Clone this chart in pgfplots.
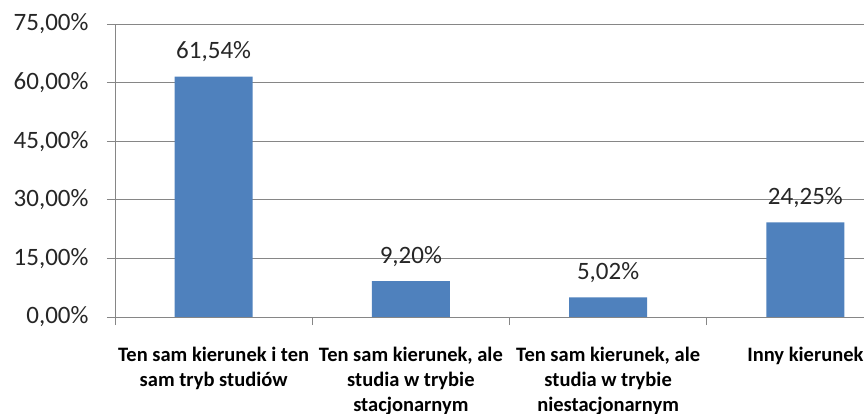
\documentclass[border=0pt]{standalone}
\usepackage{pgfplots}
\pgfplotsset{compat=1.18}
\usepackage{fontspec}
\setmainfont{Carlito}
\definecolor{barblue}{HTML}{4F81BD}
\definecolor{axgray}{HTML}{868686}
\begin{document}
\begin{tikzpicture}
\useasboundingbox (0,0) rectangle (864bp,414bp);
\clip (0,0) rectangle (864bp,414bp);
\begin{axis}[
  at={(115bp,97bp)}, anchor=south west,
  scale only axis, width=789bp, height=293bp,
  xmin=0, xmax=4, ymin=0, ymax=75,
  axis x line*=bottom, axis y line*=left,
  axis line style={axgray, line width=1bp, -},
  tick align=outside,
  major tick length=8bp,
  tick style={axgray, line width=1bp},
  ytick={0,15,...,75},
  ymajorgrids, grid style={axgray, line width=1bp},
  /pgf/number format/assume math mode=true,
  yticklabel={\pgfmathprintnumber[fixed,fixed zerofill,precision=2,use comma]{\tick}\%},
  yticklabel style={font=\fontsize{25bp}{30bp}\selectfont, text=black!85},
  yticklabel shift=15bp,
  xtick={0,1,2,3,4},
  xticklabels={,,,,},
  extra x ticks={0.5,1.5,2.5,3.5},
  extra x tick labels={{Ten sam kierunek i ten\\sam tryb studiów},{Ten sam kierunek, ale\\studia w trybie\\stacjonarnym},{Ten sam kierunek, ale\\studia w trybie\\niestacjonarnym},{Inny kierunek}},
  extra x tick style={tick style={draw=none},
    xticklabel style={align=center, anchor=north, yshift=-19bp,
      font=\bfseries\fontsize{20.5bp}{25bp}\selectfont, text=black}},
  ybar, bar width=78bp,
  nodes near coords={\pgfmathprintnumber[fixed,fixed zerofill,precision=2,use comma]{\pgfplotspointmeta}\%},
  every node near coord/.append style={font=\fontsize{25bp}{30bp}\selectfont, text=black!85, anchor=base, yshift=18bp},
]
\addplot[fill=barblue, draw=none] coordinates {(0.5,61.54) (1.5,9.20) (2.5,5.02) (3.5,24.25)};
\end{axis}
\end{tikzpicture}
\end{document}
